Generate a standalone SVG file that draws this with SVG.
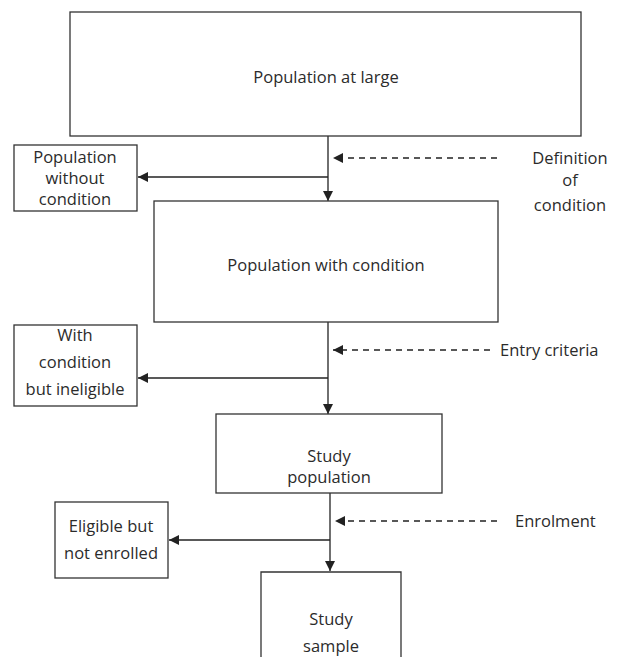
<svg xmlns="http://www.w3.org/2000/svg" width="618" height="657" viewBox="0 0 618 657">
  <style>
    .box { fill: #fff; stroke: #333; stroke-width: 1.3; }
    .lbl { font-family: "Open Sans", "Liberation Sans", sans-serif; font-size: 16.5px; fill: #2b2b2b; text-anchor: middle; }
    .side { font-family: "Open Sans", "Liberation Sans", sans-serif; font-size: 16.5px; fill: #2b2b2b; }
    .flow { stroke: #222; stroke-width: 1.3; fill: none; }
    .dash { stroke: #222; stroke-width: 1.3; fill: none; stroke-dasharray: 6 5; }
  </style>
  <defs>
    <marker id="arr" viewBox="0 0 10 10" refX="10" refY="5" markerWidth="10" markerHeight="10" markerUnits="userSpaceOnUse" orient="auto">
      <path d="M0,0 L10,5 L0,10 Z" fill="#222"/>
    </marker>
  </defs>

  <rect width="618" height="657" fill="#fff"/>

  <!-- connectors -->
  <g id="connectors">
    <line class="flow" x1="328" y1="136" x2="328" y2="201" marker-end="url(#arr)"/>
    <line class="flow" x1="328" y1="177" x2="138" y2="177" marker-end="url(#arr)"/>
    <line class="dash" x1="497" y1="158" x2="333" y2="158" marker-end="url(#arr)"/>

    <line class="flow" x1="328" y1="322" x2="328" y2="414" marker-end="url(#arr)"/>
    <line class="flow" x1="328" y1="378" x2="138" y2="378" marker-end="url(#arr)"/>
    <line class="dash" x1="490" y1="350" x2="333" y2="350" marker-end="url(#arr)"/>

    <line class="flow" x1="330" y1="493" x2="330" y2="571" marker-end="url(#arr)"/>
    <line class="flow" x1="330" y1="540" x2="169" y2="540" marker-end="url(#arr)"/>
    <line class="dash" x1="497" y1="521" x2="335" y2="521" marker-end="url(#arr)"/>
  </g>

  <!-- main stages -->
  <g id="population-at-large">
    <rect class="box" x="70" y="12" width="511" height="124"/>
    <text class="lbl" x="326" y="83">Population at large</text>
  </g>

  <g id="population-with-condition">
    <rect class="box" x="154" y="201" width="344" height="121"/>
    <text class="lbl" x="326" y="271">Population with condition</text>
  </g>

  <g id="study-population">
    <rect class="box" x="216" y="414" width="226" height="79"/>
    <text class="lbl" x="329" y="462">Study</text>
    <text class="lbl" x="329" y="483">population</text>
  </g>

  <g id="study-sample">
    <path class="box" d="M261,657 L261,572 L401,572 L401,657"/>
    <text class="lbl" x="331" y="625">Study</text>
    <text class="lbl" x="331" y="652">sample</text>
  </g>

  <!-- excluded groups -->
  <g id="without-condition">
    <rect class="box" x="14" y="145" width="123" height="66"/>
    <text class="lbl" x="75" y="163">Population</text>
    <text class="lbl" x="75" y="184">without</text>
    <text class="lbl" x="75" y="205">condition</text>
  </g>

  <g id="ineligible">
    <rect class="box" x="14" y="325" width="123" height="81"/>
    <text class="lbl" x="75" y="341">With</text>
    <text class="lbl" x="75" y="368">condition</text>
    <text class="lbl" x="75" y="395">but ineligible</text>
  </g>

  <g id="not-enrolled">
    <rect class="box" x="55" y="502" width="113" height="76"/>
    <text class="lbl" x="111" y="532">Eligible but</text>
    <text class="lbl" x="111" y="559">not enrolled</text>
  </g>

  <!-- process steps -->
  <g id="definition-of-condition">
    <text class="lbl" x="570" y="164">Definition</text>
    <text class="lbl" x="570" y="186">of</text>
    <text class="lbl" x="570" y="211">condition</text>
  </g>

  <g id="entry-criteria">
    <text class="side" x="500" y="356">Entry criteria</text>
  </g>

  <g id="enrolment">
    <text class="side" x="515" y="527">Enrolment</text>
  </g>
</svg>
